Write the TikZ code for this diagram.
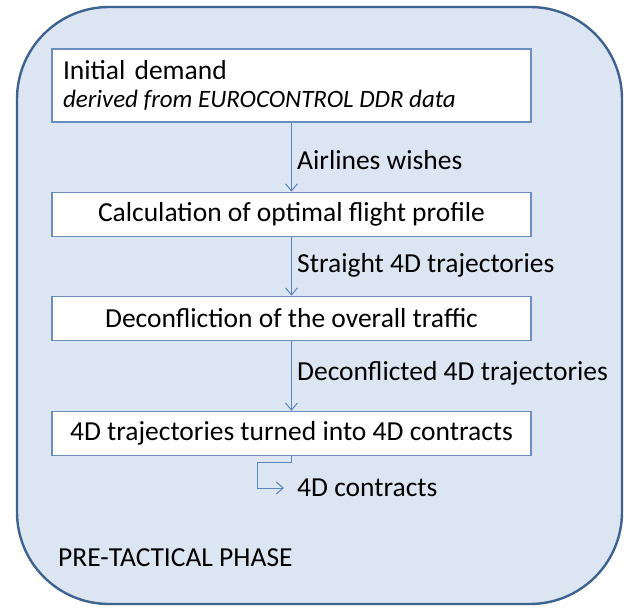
\documentclass[tikz,border=0pt]{standalone}
\usepackage{fontspec}
\setmainfont{Carlito}
\usepackage{tikz}
\usetikzlibrary{positioning,arrows.meta}
\definecolor{phaseFill}{HTML}{DCE6F2}
\definecolor{phaseLine}{HTML}{3F6391}
\definecolor{boxLine}{HTML}{6C8EBF}
\definecolor{flowLine}{HTML}{5B84BA}
\newcommand{\srcnote}[1]{{\fontsize{25}{28}\itshape\selectfont\spaceskip=5.6pt\relax #1}}
\tikzstyle{arrow} = [draw=flowLine, line width=1pt, -{Straight Barb[length=7pt,width=12pt,line width=1pt]}]
\tikzstyle{tPhase} = [draw=phaseLine, fill=phaseFill, line width=2.4pt, rounded corners=92pt]
\tikzstyle{tRect} = [rectangle, draw=boxLine, fill=white, line width=1.1pt, align=center, minimum width=479pt, minimum height=44pt, inner sep=0pt, text centered]
\tikzstyle{tLabel} = [anchor=west, inner sep=0pt]

\begin{document}
\begin{tikzpicture}[x=1pt, y=-1pt, font=\fontsize{27.5}{28}\selectfont]
        \useasboundingbox (0,0) rectangle (626,608);
        \draw[tPhase] (17,7) rectangle (622,604);
        \node[tRect, text width=457pt, minimum height=73pt, inner xsep=11pt, align=left] (Demand) at (291.5,85.5) {Initial demand\\\srcnote{derived from EUROCONTROL DDR data}};
        \node[tRect] (Profile) [below=69pt of Demand] {Calculation of optimal flight profile};
        \node[tRect] (Deconf) [below=59pt of Profile] {Deconfliction of the overall traffic};
        \node[tRect] (Contract) [below=70pt of Deconf] {4D trajectories turned into 4D contracts};
        \node[tLabel] (Wishes) at (297,160) {Airlines wishes};
        \node[tLabel] (Straight) at (297,265) {Straight 4D trajectories};
        \node[tLabel] (Deconflicted) at (297,373) {Deconflicted 4D trajectories};
        \node[tLabel] (Contracts) at (297,488) {4D contracts};
        \node[tLabel] (Phase) at (58,558) {PRE-TACTICAL PHASE};
        \draw[arrow] (Demand) -- (Profile);
        \draw[arrow] (Profile) -- (Deconf);
        \draw[arrow] (Deconf) -- (Contract);
        \draw[arrow] (Contract.south) -- ++(0,7) -- ++(-34,0) |- ([xshift=-13pt]Contracts.west);
    \end{tikzpicture}
\end{document}
